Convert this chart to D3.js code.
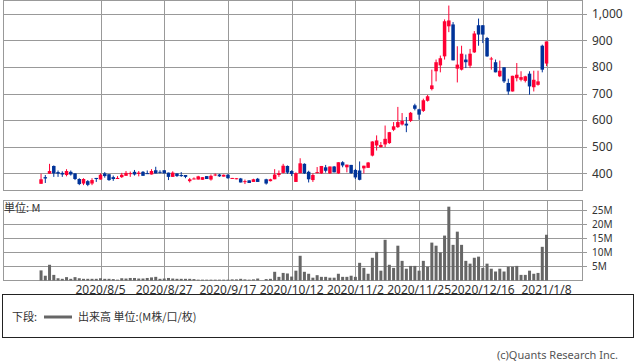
<!DOCTYPE html>
<html lang="ja">
<head>
<meta charset="UTF-8">
<title>Candlestick with volume</title>
<script src="https://d3js.org/d3.v7.min.js"></script>
<style>
  body { margin: 0; background: #fff; }
  text { font-family: "Noto Sans", sans-serif; fill: #333; }
  .jp { font-family: "Noto Sans CJK JP", sans-serif; }
  .grid { stroke: #999; stroke-width: 1; shape-rendering: crispEdges; }
</style>
</head>
<body>
<svg id="chart" width="638" height="362"></svg>
<script>
// daily bars, index 0 = first bar; index 52 is 2020/10/1 (no trading)
const open = [361,386,399,428,405,402,394,406,400,379,362,371,362,383,377,400,397,386,379,386,
  391,399,406,398,406,401,396,412,406,412,403,387,400,394,394,371,380,377,376,390,
  377,394,396,388,395,381,378,381,368,374,368,380,null,378,371,378,394,402,428,409,
  368,401,436,406,375,402,400,423,400,426,400,442,423,432,413,411,419,421,467,505,
  499,509,514,564,574,584,587,597,656,641,635,673,717,784,806,840,953,960,794,790,
  828,805,855,957,957,909,830,818,765,799,740,708,758,752,748,775,724,733,880,813];
const high = [399,394,436,430,411,408,416,411,401,382,382,375,382,383,400,405,397,392,390,402,
  409,407,413,409,409,411,416,425,412,412,403,408,400,405,394,383,385,391,386,390,
  396,400,398,396,398,383,382,383,377,374,380,383,null,380,380,416,411,436,430,412,
  404,457,438,410,400,424,428,432,426,428,442,446,433,432,417,445,429,443,521,543,
  518,580,556,593,650,627,612,631,662,643,681,695,790,828,843,979,1031,969,878,880,
  847,868,935,982,957,913,838,828,824,799,756,767,815,784,767,784,786,786,884,896];
const low = [361,364,399,387,387,387,389,392,375,356,356,352,356,368,377,384,372,372,379,383,
  391,387,392,389,391,398,396,400,400,400,375,387,387,387,382,366,378,377,376,379,
  373,390,387,388,380,380,378,366,360,364,368,368,null,358,370,378,387,400,398,390,
  368,401,398,366,368,400,398,403,398,404,398,423,404,398,379,374,400,421,464,486,
  497,499,511,559,571,580,555,593,637,602,631,670,712,746,780,828,931,825,742,787,
  796,796,853,880,890,838,790,780,762,740,696,708,746,746,742,696,708,730,780,803];
const close = [378,381,409,400,399,396,409,396,379,360,379,357,375,379,395,390,375,379,383,395,
  402,401,396,403,391,398,409,400,403,400,387,403,390,390,387,378,381,389,386,379,
  391,396,389,395,382,383,382,366,371,364,378,368,null,362,378,396,401,429,403,398,
  401,438,400,378,394,405,428,410,426,404,442,430,433,401,385,376,429,441,520,524,
  507,530,555,577,593,597,580,628,643,621,675,690,731,818,833,972,975,825,809,850,
  818,850,926,922,922,840,832,780,786,746,708,767,771,762,765,727,752,746,790,896];
// volume, M shares
const volume = [3.6,1.7,5.6,2.0,0.8,0.6,1.2,0.6,1.2,0.8,0.6,0.6,0.6,0.6,0.8,0.6,0.6,0.5,0.3,0.8,
  0.7,0.9,0.9,0.7,0.7,0.9,1.1,1.3,0.6,0.7,0.9,0.7,0.6,0.6,0.6,0.6,0.5,0.3,0.3,0.3,
  0.3,0.3,0.3,0.3,0.3,0.4,0.4,0.6,0.4,0.3,0.4,0.7,null,0.5,0.6,3.1,1.3,2.7,2.5,1.4,
  3.5,8.8,3.1,2.4,1.0,1.9,1.3,1.3,1.0,1.0,2.4,1.3,1.3,1.7,1.3,6.3,4.5,2.4,8.1,10.2,
  3.5,14.5,5.6,4.5,12.4,7.0,4.2,5.2,5.2,3.5,7.0,4.9,13.5,12.4,10.0,16.0,26.3,12.7,17.4,12.7,
  7.0,6.0,8.1,8.5,4.5,6.0,4.2,3.2,4.2,3.2,4.9,4.9,5.2,2.0,2.0,3.5,2.4,2.7,12.0,16.3];

const tickIndex = [14, 29, 44, 59, 74, 89, 104, 119];
const tickLabels = ["2020/8/5", "2020/8/27", "2020/9/17", "2020/10/12", "2020/11/2", "2020/11/25", "2020/12/16", "2021/1/8"];
const priceTicks = [400, 500, 600, 700, 800, 900, 1000];
const volumeTicks = [5, 10, 15, 20, 25];

const bars = open.map((o, i) => ({ i, o, h: high[i], l: low[i], c: close[i], v: volume[i] }))
  .filter(d => d.o != null);

const left = 3.5, right = 582.5;
const x = d3.scaleLinear().domain([-8.84, 127.47]).range([left, right]);
const yP = d3.scaleLinear().domain([335.8, 1050]).range([190.5, 0.5]);
const yV = d3.scaleLinear().domain([0, 28.5]).range([280.5, 200.5]);

const svg = d3.select("#chart");
const up = "#ff0033", down = "#003399";

function panel(yScale, ticks, fmt, labelSize) {
  const g = svg.append("g");
  const [y0, y1] = yScale.range();
  g.selectAll(".h").data(ticks).enter().append("line")
    .attr("class", "grid")
    .attr("x1", left).attr("x2", right + 4)
    .attr("y1", d => Math.round(yScale(d)) + 0.5)
    .attr("y2", d => Math.round(yScale(d)) + 0.5);
  g.selectAll(".v").data(tickIndex).enter().append("line")
    .attr("class", "grid")
    .attr("x1", d => Math.round(x(d)) + 0.5).attr("x2", d => Math.round(x(d)) + 0.5)
    .attr("y1", y1).attr("y2", y0);
  g.append("rect")
    .attr("x", left).attr("y", y1)
    .attr("width", right - left).attr("height", y0 - y1)
    .attr("fill", "none").attr("stroke", "#999").attr("shape-rendering", "crispEdges");
  g.selectAll(".lab").data(ticks).enter().append("text")
    .attr("x", 592).attr("y", d => yScale(d))
    .attr("dy", "0.35em")
    .style("font-size", labelSize + "px")
    .text(fmt);
  return g;
}

panel(yP, priceTicks, d3.format(","), 12);
panel(yV, volumeTicks, d => d + "M", 10);

// candles
const cg = svg.append("g");
cg.selectAll(".wick").data(bars).enter().append("line")
  .attr("x1", d => x(d.i)).attr("x2", d => x(d.i))
  .attr("y1", d => yP(d.h)).attr("y2", d => yP(d.l))
  .attr("stroke", d => d.c >= d.o ? up : down).attr("stroke-width", 1);
cg.selectAll(".body").data(bars).enter().append("rect")
  .attr("x", d => x(d.i) - 1.75).attr("width", 3.5)
  .attr("y", d => yP(Math.max(d.o, d.c)))
  .attr("height", d => Math.max(1, Math.abs(yP(d.o) - yP(d.c))))
  .attr("fill", d => d.c >= d.o ? up : down);

// volume bars
svg.append("g").selectAll("rect").data(bars).enter().append("rect")
  .attr("x", d => x(d.i) - 1.5).attr("width", 3)
  .attr("y", d => yV(d.v))
  .attr("height", d => yV(0) - yV(d.v))
  .attr("fill", "#666");

svg.append("text").attr("class", "jp")
  .attr("x", 4).attr("y", 212)
  .style("font-size", "11px")
  .text("単位: M");

// date labels
svg.append("g").selectAll("text").data(tickIndex).enter().append("text")
  .attr("x", d => x(d)).attr("y", 294)
  .attr("text-anchor", "middle")
  .style("font-size", "12px")
  .text((d, k) => tickLabels[k]);

// legend box
svg.append("rect")
  .attr("x", 2.5).attr("y", 294.5).attr("width", 631).attr("height", 43)
  .attr("fill", "none").attr("stroke", "#222");
svg.append("text").attr("class", "jp")
  .attr("x", 12).attr("y", 321).style("font-size", "11px").text("下段:");
svg.append("line")
  .attr("x1", 44).attr("x2", 72).attr("y1", 317).attr("y2", 317)
  .attr("stroke", "#666").attr("stroke-width", 3);
svg.append("text").attr("class", "jp")
  .attr("x", 78).attr("y", 321).style("font-size", "11px").text("出来高 単位:(M株/口/枚)");

svg.append("text")
  .attr("x", 618).attr("y", 359).attr("text-anchor", "end")
  .style("font-size", "11px").style("fill", "#555")
  .text("(c)Quants Research Inc.");
</script>
</body>
</html>
